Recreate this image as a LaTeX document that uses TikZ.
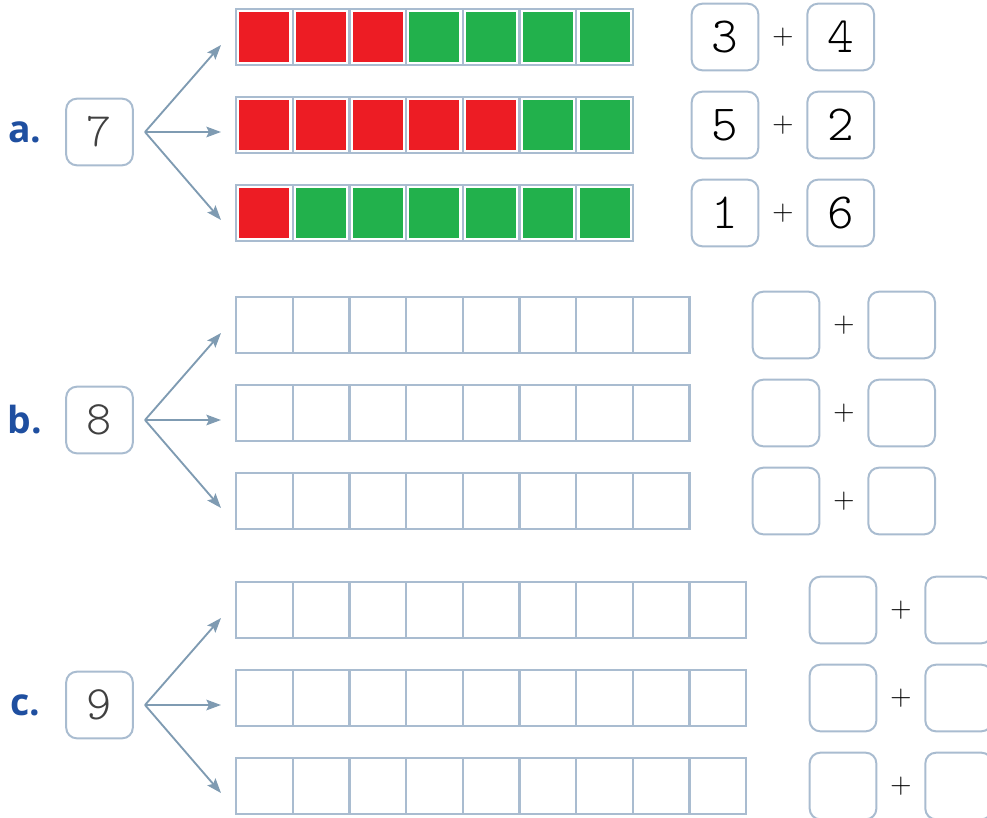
\documentclass[tikz,border=0pt]{standalone}
\usepackage{fontspec}
\newfontfamily\labelfont{Open Sans}
\newfontfamily\digitfont{Latin Modern Mono Light}
\usepackage{tikz}
\usetikzlibrary{arrows.meta,positioning,calc}

\definecolor{framebl}{HTML}{A9BCD0}
\definecolor{arrowbl}{HTML}{7F9BB2}
\definecolor{labelbl}{HTML}{1F4FA0}
\definecolor{cntred}{HTML}{ED1C24}
\definecolor{cntgreen}{HTML}{22B14C}

\begin{document}
\begin{tikzpicture}[
  x=0.75pt, y=-0.75pt,
  >=Stealth,
  cell/.style={draw=framebl, line width=1.7pt, minimum size=42.5pt,
               inner sep=0pt, outer sep=0pt},
  numbox/.style={draw=framebl, line width=1.5pt, rounded corners=8pt,
                 minimum size=50pt, inner sep=0pt, outer sep=0pt,
                 font=\digitfont\fontsize{36}{36}\selectfont},
  plus/.style={minimum width=36.75pt, inner sep=0pt, outer sep=0pt,
               font=\fontsize{22}{22}\selectfont},
  seclabel/.style={text=labelbl, font=\labelfont\bfseries\fontsize{28}{28}\selectfont},
  arr/.style={-{Stealth[length=11pt,width=8pt,inset=2pt]}, draw=arrowbl, line width=1.4pt},
]
\clip (0,0) rectangle (987,817);
\useasboundingbox (0,0) rectangle (987,817);

%% --- the three sections: label, number, fork, ten-frames, answer boxes ---
\foreach \s/\n/\yc/\ax/\len in {a/7/132/725/7, b/8/420/786/8, c/9/705/843/9}{
  \node[seclabel] (lbl-\s) at (25,\yc) {\s.};
  \node[numbox, text=black!75]   (num-\s) at (99.5,\yc) {\n};
  \coordinate (fork-\s) at (145,\yc);
  \foreach \r/\dy/\ady in {1/-95/-87, 2/-7/0, 3/81/88}{
    \coordinate (tip-\s\r) at (221,{\yc+(\ady)});
    \draw[arr] (fork-\s) -- (tip-\s\r);
    \foreach \j in {1,...,\len}
      \node[cell] (\s\r-\j) at ({264.35+56.7*(\j-1)},{\yc+(\dy)}) {};
    \node[numbox] (\s\r-l) at (\ax,{\yc+(\dy)}) {};
    \node[plus, right=0pt of \s\r-l] (\s\r-p) {+};
    \node[numbox, right=0pt of \s\r-p] (\s\r-r) {};
  }
}

%% --- worked example (a): counters and answers ---
\foreach \r/\red/\grn in {1/3/4, 2/5/2, 3/1/6}{
  \pgfmathtruncatemacro\first{\red+1}
  \foreach \j in {1,...,\red}
    \fill[cntred] ($(a\r-\j.south west)+(2.5pt,2.5pt)$) rectangle ($(a\r-\j.north east)-(2.5pt,2.5pt)$);
  \foreach \j in {\first,...,7}
    \fill[cntgreen] ($(a\r-\j.south west)+(2.5pt,2.5pt)$) rectangle ($(a\r-\j.north east)-(2.5pt,2.5pt)$);
  \node[font=\digitfont\fontsize{38}{38}\selectfont] at (a\r-l) {\red};
  \node[font=\digitfont\fontsize{38}{38}\selectfont] at (a\r-r) {\grn};
}

\end{tikzpicture}
\end{document}
